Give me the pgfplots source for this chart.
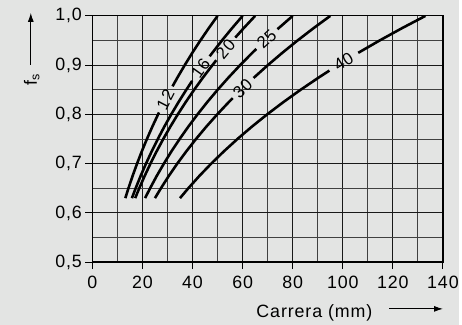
\documentclass[border=0pt]{standalone}
\usepackage{pgfplots}
\pgfplotsset{compat=1.18}
\usepackage{fontspec}
\setmainfont{Liberation Sans}[LetterSpace=5]
\usetikzlibrary{backgrounds,arrows.meta}
\definecolor{bg}{HTML}{E3E4E3}
\begin{document}
\begin{tikzpicture}[x=1bp,y=1bp]
\begin{axis}[
  at={(0,0)}, anchor=south west,
  width=353bp, height=248bp, scale only axis,
  xmin=0, xmax=140, ymin=0.5, ymax=1.0,
  xtick={0,20,40,60,80,100,120,140},
  minor xtick={10,30,50,70,90,110,130},
  ytick={0.5,0.6,0.7,0.8,0.9,1.0},
  minor ytick={0.55,0.65,0.75,0.85,0.95},
  grid=both,
  major grid style={black!90, line width=1bp},
  minor grid style={black!75, line width=1bp},
  tick align=outside, tick pos=left,
  major tick length=7bp, minor tick length=0pt,
  tick style={black, line width=1bp},
  axis line style={black, line width=1.2bp},
  /pgf/number format/assume math mode=true,
  ticklabel style={font=\fontsize{18}{18}\selectfont},
  x tick label style={yshift=-3bp},
  y tick label style={/pgf/number format/use comma, /pgf/number format/fixed, /pgf/number format/fixed zerofill, /pgf/number format/precision=1},
]
% curve 12
\addplot[black, line width=2.6bp] coordinates {(13.16,0.63)(14.40,0.65)(16.06,0.675)(17.84,0.70)(19.74,0.725)(21.77,0.75)(23.94,0.775)(26.23,0.80)(26.62,0.804)};
\addplot[black, line width=2.6bp] coordinates {(32.01,0.857)(33.99,0.875)(36.88,0.90)(39.91,0.925)(43.11,0.95)(46.47,0.975)(50,1.0)};
% curve 16
\addplot[black, line width=2.6bp] coordinates {(15.79,0.63)(17.28,0.65)(19.27,0.675)(21.40,0.70)(23.69,0.725)(26.13,0.75)(28.72,0.775)(31.48,0.80)(34.41,0.825)(37.51,0.85)(39.85,0.868)};
\addplot[black, line width=2.6bp] coordinates {(46.86,0.918)(47.90,0.925)(51.73,0.95)(55.77,0.975)(60,1.0)};
% curve 20
\addplot[black, line width=2.6bp] coordinates {(17.10,0.63)(18.72,0.65)(20.87,0.675)(23.19,0.70)(25.66,0.725)(28.30,0.75)(31.12,0.775)(34.10,0.80)(37.28,0.825)(40.64,0.85)(44.19,0.875)(47.94,0.90)(49.49,0.91)};
\addplot[black, line width=2.6bp] coordinates {(57.07,0.956)(60.41,0.975)(65,1.0)};
% curve 25
\addplot[black, line width=2.6bp] coordinates {(21.05,0.63)(23.04,0.65)(25.69,0.675)(28.54,0.70)(31.58,0.725)(34.84,0.75)(38.30,0.775)(41.98,0.80)(45.88,0.825)(50.02,0.85)(54.39,0.875)(59.00,0.90)(63.86,0.925)(65.47,0.933)};
\addplot[black, line width=2.6bp] coordinates {(73.92,0.973)(74.36,0.975)(80,1.0)};
% curve 30
\addplot[black, line width=2.6bp] coordinates {(24.99,0.63)(27.36,0.65)(30.51,0.675)(33.89,0.70)(37.51,0.725)(41.37,0.75)(45.48,0.775)(49.85,0.80)(54.48,0.825)(56.03,0.833)};
\addplot[black, line width=2.6bp] coordinates {(64.37,0.874)(64.59,0.875)(70.06,0.90)(75.84,0.925)(81.91,0.95)(88.30,0.975)(95,1.0)};
% curve 40
\addplot[black, line width=2.6bp] coordinates {(34.99,0.63)(38.30,0.65)(42.71,0.675)(47.44,0.70)(52.51,0.725)(57.91,0.75)(63.67,0.775)(69.78,0.80)(76.28,0.825)(83.16,0.85)(90.42,0.875)(94.66,0.889)};
\addplot[black, line width=2.6bp] coordinates {(106.17,0.925)(114.68,0.95)(123.62,0.975)(133,1.0)};
% curve labels
\node[rotate=62.7, inner sep=0pt, font=\fontsize{17}{17}\selectfont] at (axis cs:29.18,0.83) {12};
\node[rotate=54.5, inner sep=0pt, font=\fontsize{17}{17}\selectfont] at (axis cs:43.26,0.893) {16};
\node[rotate=50, inner sep=0pt, font=\fontsize{17}{17}\selectfont] at (axis cs:53.19,0.933) {20};
\node[rotate=43, inner sep=0pt, font=\fontsize{17}{17}\selectfont] at (axis cs:69.61,0.953) {25};
\node[rotate=44, inner sep=0pt, font=\fontsize{17}{17}\selectfont] at (axis cs:60.00,0.853) {30};
\node[rotate=31.6, inner sep=0pt, font=\fontsize{17}{17}\selectfont] at (axis cs:100.31,0.907) {40};
\draw[black, line width=2bp] (axis cs:0,1.0) -- (axis cs:0,0.5) -- (axis cs:140,0.5);
\end{axis}
\node[anchor=base east, inner sep=0pt, font=\fontsize{18}{18}\selectfont] at (282,-56) {Carrera (mm)};
\draw[-{Latex[length=9bp,width=6bp]}, line width=0.9bp] (299,-47) -- (353,-47);
\draw[-{Latex[length=9bp,width=6bp]}, line width=0.9bp] (-62,199) -- (-62,251);
\node[rotate=90, inner sep=0pt, font=\fontsize{18}{18}\selectfont] at (-61,184) {f\textsubscript{s}};
\begin{scope}[on background layer]
\fill[bg] (-93,-63) rectangle (369,264);
\end{scope}
\end{tikzpicture}
\end{document}
